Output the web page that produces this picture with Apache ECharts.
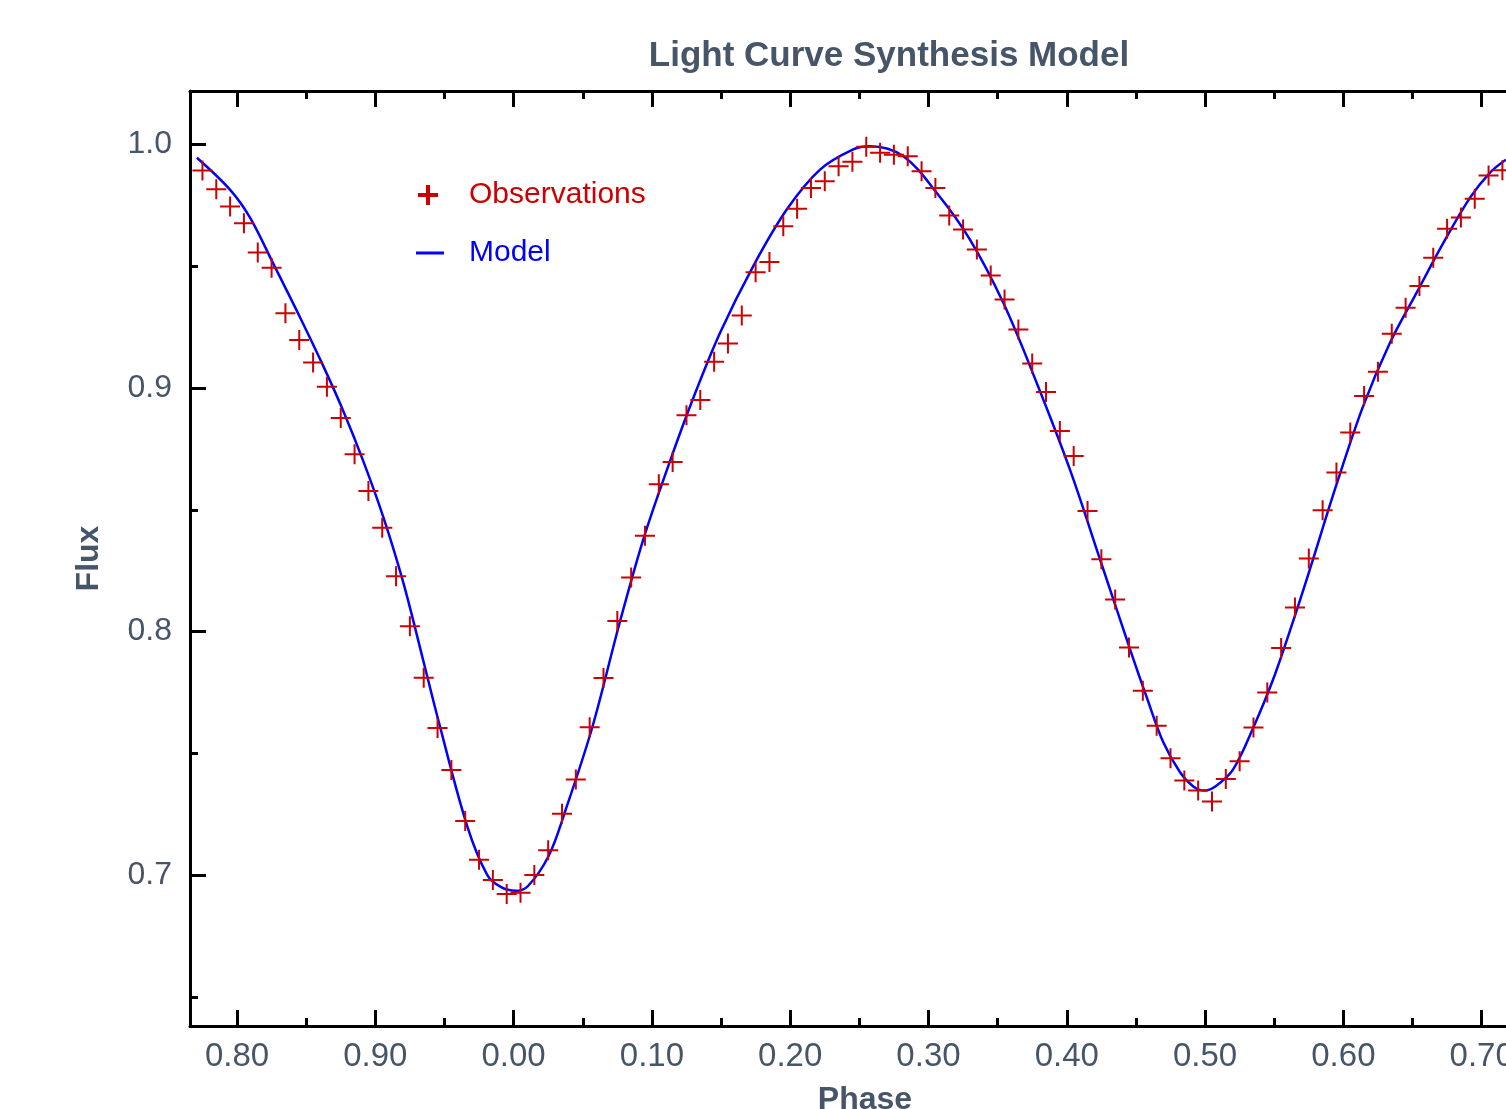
<!DOCTYPE html>
<html>
<head>
<meta charset="utf-8">
<title>Light Curve Synthesis Model</title>
<script src="https://cdn.jsdelivr.net/npm/echarts@6/dist/echarts.min.js"></script>
<style>
  html, body { margin: 0; padding: 0; background: #fff; }
  #chart { width: 1506px; height: 1109px; }
</style>
</head>
<body>
<div id="chart"></div>
<script>
// observed points (phase, normalised flux)
const obsPhase = [
  -0.225, -0.215, -0.205, -0.195, -0.185, -0.175, -0.165, -0.155, -0.145, -0.135,
  -0.125, -0.115, -0.105, -0.095, -0.085, -0.075, -0.065, -0.055, -0.045, -0.035,
  -0.025, -0.015, -0.005, 0.005, 0.015, 0.025, 0.035, 0.045, 0.055, 0.065,
  0.075, 0.085, 0.095, 0.105, 0.115, 0.125, 0.135, 0.145, 0.155, 0.165,
  0.175, 0.185, 0.195, 0.205, 0.215, 0.225, 0.235, 0.245, 0.255, 0.265,
  0.275, 0.285, 0.295, 0.305, 0.315, 0.325, 0.335, 0.345, 0.355, 0.365,
  0.375, 0.385, 0.395, 0.405, 0.415, 0.425, 0.435, 0.445, 0.455, 0.465,
  0.475, 0.485, 0.495, 0.505, 0.515, 0.525, 0.535, 0.545, 0.555, 0.565,
  0.575, 0.585, 0.595, 0.605, 0.615, 0.625, 0.635, 0.645, 0.655, 0.665,
  0.675, 0.685, 0.695, 0.705, 0.715
]
const obsFlux = [
  0.9894, 0.9817, 0.9746, 0.9677, 0.9557, 0.9494, 0.9307, 0.9197, 0.9105, 0.9005,
  0.8877, 0.8728, 0.8577, 0.8426, 0.8227, 0.8022, 0.7810, 0.7604, 0.7431, 0.7222,
  0.7063, 0.6980, 0.6922, 0.6927, 0.7000, 0.7102, 0.7252, 0.7392, 0.7607, 0.7809,
  0.8043, 0.8222, 0.8393, 0.8605, 0.8696, 0.8888, 0.8951, 0.9108, 0.9183, 0.9298,
  0.9476, 0.9518, 0.9665, 0.9736, 0.9822, 0.9849, 0.9911, 0.9929, 0.9991, 0.9966,
  0.9958, 0.9952, 0.9890, 0.9822, 0.9709, 0.9651, 0.9569, 0.9462, 0.9364, 0.9241,
  0.9101, 0.8984, 0.8824, 0.8721, 0.8495, 0.8297, 0.8132, 0.7934, 0.7757, 0.7613,
  0.7480, 0.7388, 0.7347, 0.7302, 0.7394, 0.7467, 0.7606, 0.7750, 0.7932, 0.8099,
  0.8300, 0.8498, 0.8653, 0.8817, 0.8967, 0.9067, 0.9223, 0.9330, 0.9419, 0.9535,
  0.9654, 0.9700, 0.9777, 0.9873, 0.9895
]

// synthetic model curve
const modelPhase = [
  -0.229, -0.2051, -0.1906, -0.1737, -0.1544, -0.1376, -0.1231, -0.1087, -0.0942, -0.0797,
  -0.0653, -0.0537, -0.0335, -0.019, -0.009, 0.0015, 0.0104, 0.0252, 0.0374, 0.0569,
  0.0764, 0.0938, 0.1131, 0.13, 0.1493, 0.1733, 0.1975, 0.2216, 0.2456, 0.2577,
  0.2818, 0.3059, 0.33, 0.3541, 0.3782, 0.4023, 0.424, 0.4457, 0.4578, 0.4698,
  0.4819, 0.4915, 0.4995, 0.5084, 0.5204, 0.5349, 0.5493, 0.5638, 0.5758, 0.5951,
  0.6143, 0.6337, 0.6529, 0.6722, 0.6915, 0.7059, 0.7175
]
const modelFlux = [
  0.9946, 0.9815, 0.9700, 0.9510, 0.9290, 0.9090, 0.8905, 0.8700, 0.8470, 0.8200,
  0.7880, 0.7620, 0.7200, 0.7000, 0.6950, 0.6935, 0.6955, 0.7077, 0.7264, 0.7607,
  0.8030, 0.8379, 0.8700, 0.8960, 0.9227, 0.9501, 0.9733, 0.9897, 0.9980, 0.9993,
  0.9952, 0.9802, 0.9610, 0.9350, 0.9022, 0.8665, 0.8297, 0.7928, 0.7730, 0.7545,
  0.7422, 0.7364, 0.7347, 0.7368, 0.7435, 0.7606, 0.7805, 0.8045, 0.8256, 0.8605,
  0.8926, 0.9186, 0.9391, 0.9595, 0.9781, 0.9884, 0.9938
]

// tick positions (phase shown modulo 1)
const xMajorTicks = [-0.2, -0.1, 0, 0.1, 0.2, 0.3, 0.4, 0.5, 0.6, 0.7]
const xMinorTicks = [-0.15, -0.05, 0.05, 0.15, 0.25, 0.35, 0.45, 0.55, 0.65]
const yMajorTicks = [0.7, 0.8, 0.9, 1.0]
const yMinorTicks = [0.65, 0.75, 0.85, 0.95]

// the plot runs past the right edge of the picture
const X_MIN = -0.234, X_MAX = 0.7176
const Y_MIN = 0.638, Y_MAX = 1.022

const textColor = '#475569'
const fontFamily = '"Liberation Sans", Arial, Helvetica, sans-serif'
const plusThin = 'path://M9,0h2v9h9v2h-9v9h-2v-9h-9v-2h9z'
const plusThick = 'path://M8,0h4v8h8v4h-8v8h-4v-8h-8v-4h8z'

function phaseLabel(v) {
  const p = ((v % 1) + 1) % 1
  return p.toFixed(2)
}

function xAxisDef(position, ticks, len, showLine, showLabel) {
  return {
    type: 'value',
    position: position,
    min: X_MIN,
    max: X_MAX,
    axisLine: { show: showLine, onZero: false, lineStyle: { color: '#000', width: 3 } },
    axisTick: { show: true, inside: true, length: len, customValues: ticks, lineStyle: { color: '#000', width: 3 } },
    axisLabel: {
      show: showLabel,
      customValues: ticks,
      formatter: phaseLabel,
      margin: 14,
      color: textColor,
      fontSize: 33,
      fontFamily: fontFamily
    },
    splitLine: { show: false }
  }
}

function yAxisDef(ticks, len, showLine, showLabel) {
  return {
    type: 'value',
    position: 'left',
    min: Y_MIN,
    max: Y_MAX,
    axisLine: { show: showLine, onZero: false, lineStyle: { color: '#000', width: 3 } },
    axisTick: { show: true, inside: true, length: len, customValues: ticks, lineStyle: { color: '#000', width: 3 } },
    axisLabel: {
      show: showLabel,
      customValues: ticks,
      formatter: v => v.toFixed(1),
      margin: 18,
      color: textColor,
      fontSize: 32,
      fontFamily: fontFamily
    },
    splitLine: { show: false }
  }
}

const chart = echarts.init(document.getElementById('chart'))

const xMain = xAxisDef('bottom', xMajorTicks, 16, true, true)
xMain.name = 'Phase'
xMain.nameLocation = 'middle'
xMain.nameGap = 58
xMain.nameTextStyle = { color: textColor, fontSize: 32, fontWeight: 'bold', fontFamily: fontFamily, padding: [0, 0, 0, 34] }

const yMain = yAxisDef(yMajorTicks, 16, true, true)
yMain.name = 'Flux'
yMain.nameLocation = 'middle'
yMain.nameGap = 85
yMain.nameTextStyle = { color: textColor, fontSize: 32, fontWeight: 'bold', fontFamily: fontFamily }

const option = {
  backgroundColor: '#ffffff',
  animation: false,
  title: {
    text: 'Light Curve Synthesis Model',
    left: 884,
    textAlign: 'center',
    top: 34,
    textStyle: { color: textColor, fontSize: 35, fontWeight: 'bold', fontFamily: fontFamily }
  },
  grid: { left: 190, right: 0, top: 91, bottom: 83, outerBoundsMode: 'none', containLabel: false },
  legend: [
    {
      orient: 'vertical',
      left: 418,
      top: 180,
      padding: 0,
      itemWidth: 20,
      itemHeight: 20,
      data: [{ name: 'Observations', icon: plusThick }],
      textStyle: { color: '#cc0000', fontSize: 30, fontFamily: fontFamily, padding: [0, 0, 0, 26] }
    },
    {
      orient: 'vertical',
      left: 416,
      top: 238,
      padding: 0,
      itemWidth: 28,
      itemHeight: 3,
      data: [{ name: 'Model', icon: 'rect' }],
      itemStyle: { color: '#0000ff' },
      lineStyle: { width: 3 },
      textStyle: { color: '#0000ff', fontSize: 30, fontFamily: fontFamily, padding: [0, 0, 0, 20] }
    }
  ],
  xAxis: [
    xMain,
    xAxisDef('bottom', xMinorTicks, 8, false, false),
    xAxisDef('top', xMajorTicks, 16, true, false),
    xAxisDef('top', xMinorTicks, 8, false, false)
  ],
  yAxis: [
    yMain,
    yAxisDef(yMinorTicks, 8, false, false)
  ],
  series: [
    {
      name: 'Model',
      type: 'line',
      xAxisIndex: 0,
      yAxisIndex: 0,
      data: modelPhase.map((p, i) => [p, modelFlux[i]]),
      smooth: 0.35,
      symbol: 'none',
      lineStyle: { color: '#0000ff', width: 2.5 },
      itemStyle: { color: '#0000ff' },
      z: 2
    },
    {
      name: 'Observations',
      type: 'scatter',
      xAxisIndex: 0,
      yAxisIndex: 0,
      data: obsPhase.map((p, i) => [p, obsFlux[i]]),
      symbol: plusThin,
      symbolSize: 20,
      itemStyle: { color: '#cc0000', opacity: 1 },
      z: 3
    }
  ]
}

chart.setOption(option)
window.addEventListener('resize', () => chart.resize())
</script>
</body>
</html>
